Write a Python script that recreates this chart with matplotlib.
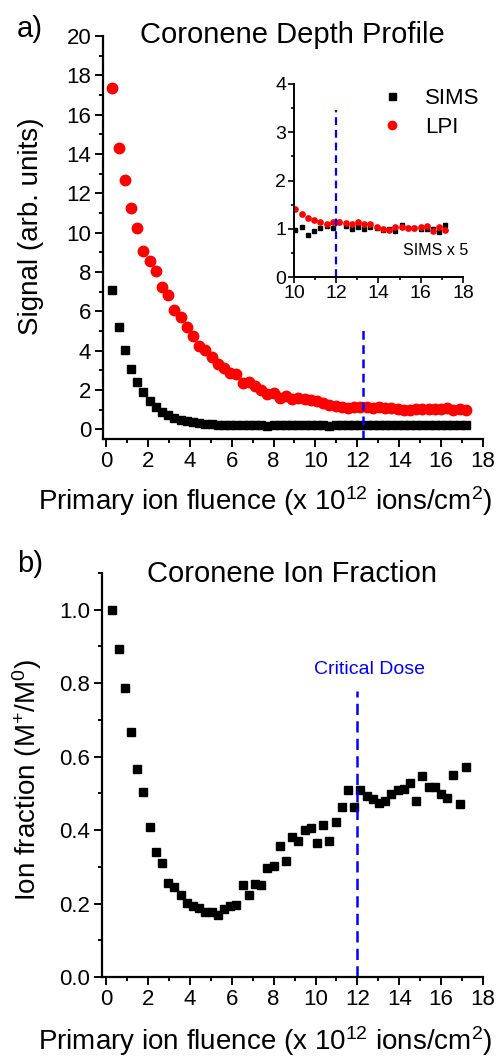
import matplotlib
matplotlib.use("Agg")
import matplotlib.pyplot as plt
from matplotlib.ticker import MultipleLocator, FormatStrFormatter
import numpy as np

plt.rcParams['font.family'] = ['Liberation Sans', 'DejaVu Sans']
plt.rcParams['mathtext.fontset'] = 'custom'
plt.rcParams['mathtext.rm'] = 'Liberation Sans'
plt.rcParams['mathtext.it'] = 'Liberation Sans'

# ---------------- data ----------------
fluence = [0.30, 0.60, 0.89, 1.19, 1.48, 1.78, 2.08, 2.37, 2.67, 2.96,
           3.26, 3.56, 3.85, 4.15, 4.44, 4.74, 5.04, 5.33, 5.63, 5.92,
           6.22, 6.52, 6.81, 7.11, 7.40, 7.70, 8.00, 8.29, 8.59, 8.88,
           9.18, 9.48, 9.77, 10.07, 10.36, 10.66, 10.96, 11.25, 11.55, 11.84,
           12.14, 12.44, 12.73, 13.03, 13.32, 13.62, 13.92, 14.21, 14.51, 14.80,
           15.10, 15.40, 15.69, 15.99, 16.28, 16.58, 16.88, 17.17]

lpi = [17.37, 14.28, 12.67, 11.26, 10.24, 9.07, 8.56, 8.06, 7.21, 6.82,
       6.04, 5.72, 5.21, 4.75, 4.22, 4.02, 3.68, 3.34, 3.09, 2.87,
       2.83, 2.36, 2.38, 2.19, 1.98, 1.77, 1.85, 1.59, 1.68, 1.56,
       1.60, 1.52, 1.47, 1.41, 1.31, 1.23, 1.18, 1.13, 1.09, 1.15,
       1.15, 1.11, 1.09, 1.15, 1.09, 1.09, 1.04, 0.99, 0.97, 1.04,
       1.03, 1.01, 1.01, 1.04, 1.06, 0.95, 1.04, 0.97]

sims = [7.07, 5.21, 4.05, 3.05, 2.38, 1.87, 1.44, 1.13, 0.88, 0.71,
        0.59, 0.49, 0.41, 0.34, 0.29, 0.26, 0.24, 0.22, 0.21, 0.20,
        0.20, 0.19, 0.19, 0.19, 0.19, 0.18, 0.19, 0.19, 0.19, 0.19,
        0.19, 0.20, 0.19, 0.194, 0.208, 0.174, 0.190, 0.204, 0.212, 0.204,
        0.226, 0.212, 0.198, 0.208, 0.198, 0.208, 0.204, 0.194, 0.198, 0.192,
        0.216, 0.202, 0.202, 0.198, 0.198, 0.198, 0.188, 0.216]

ion_fraction = [1.000, 0.893, 0.787, 0.666, 0.566, 0.505, 0.408, 0.340, 0.311, 0.257,
                0.244, 0.223, 0.201, 0.193, 0.189, 0.177, 0.177, 0.169, 0.184, 0.192,
                0.196, 0.251, 0.223, 0.253, 0.251, 0.296, 0.302, 0.357, 0.317, 0.380,
                0.369, 0.401, 0.405, 0.366, 0.414, 0.371, 0.421, 0.464, 0.508, 0.464,
                0.508, 0.493, 0.484, 0.473, 0.478, 0.498, 0.508, 0.511, 0.528, 0.480,
                0.546, 0.517, 0.517, 0.499, 0.487, 0.550, 0.471, 0.573]

inset_start = 10.0
sims_scale = 5
dose_a = 12.27          # dashed line position in panel a
dose_a_top = 5.1
dose_inset = 12.0
dose_inset_top = 3.46
dose_b = 12.0
dose_b_top = 0.78

RED = '#ff0000'
BLUE = '#0000ff'

# ---------------- figure ----------------
W, H = 502, 1061
fig = plt.figure(figsize=(W / 100, H / 100), dpi=100)


def fx(px):
    return px / W


def fy(py):
    return 1 - py / H


def style_axes(ax, lw=1.6, major=5.5, minor=3.0, size=16):
    for s in ['top', 'right']:
        ax.spines[s].set_visible(False)
    for s in ['left', 'bottom']:
        ax.spines[s].set_linewidth(lw)
    ax.tick_params(which='major', direction='out', length=major, width=lw * 0.85,
                   labelsize=size, pad=3)
    ax.tick_params(which='minor', direction='out', length=minor, width=lw * 0.85)


def place_labels(ax, left, right, top, bottom, xl_center, xl_y, yl_x, yl_y):
    w = right - left
    h = bottom - top
    ax.xaxis.label.set_va('center')
    ax.xaxis.set_label_coords((xl_center - left) / w, (bottom - xl_y) / h)
    ax.yaxis.label.set_va('center')
    ax.yaxis.set_label_coords((yl_x - left) / w, (bottom - yl_y) / h)


x_label = 'Primary ion fluence (x 10$^{12}$ ions/cm$^{2}$)'

# ---------------- panel a ----------------
A_L, A_R, A_T, A_B = 103, 483, 36, 439
axa = fig.add_axes([fx(A_L), fy(A_B), fx(A_R) - fx(A_L), fy(A_T) - fy(A_B)])
axa.plot(fluence, sims, 's', color='black', ms=6.3, mec='black', label='SIMS')
axa.plot(fluence, lpi, 'o', color=RED, ms=7.5, mec=RED, label='LPI')
axa.vlines(dose_a, -0.5, dose_a_top, colors=BLUE, linestyles=(0, (3.5, 2.2)), lw=1.8)
axa.set_xlim(-0.14, 18)
axa.set_ylim(-0.5, 20)
axa.xaxis.set_major_locator(MultipleLocator(2))
axa.xaxis.set_minor_locator(MultipleLocator(1))
axa.yaxis.set_major_locator(MultipleLocator(2))
axa.yaxis.set_minor_locator(MultipleLocator(1))
style_axes(axa)
axa.set_ylabel('Signal (arb. units)', fontsize=20)
axa.set_xlabel(x_label, fontsize=20)
place_labels(axa, A_L, A_R, A_T, A_B, 265, 501, 31, 226)

leg = axa.legend(loc='upper left', bbox_to_anchor=(fx(381), fy(88)),
                 bbox_transform=fig.transFigure, frameon=False, fontsize=16,
                 handlelength=1.0, handletextpad=1.0, labelspacing=0.35,
                 borderpad=0, borderaxespad=0, markerscale=0.8)

# ---------------- inset ----------------
fl = np.array(fluence)
m = fl >= inset_start
axi = fig.add_axes([fx(294), fy(277), fx(463) - fx(294), fy(84) - fy(277)])
axi.set_facecolor('none')
axi.plot(fl[m], np.array(sims)[m] * sims_scale, 's', color='black', ms=3.2, mec='black')
axi.plot(fl[m], np.array(lpi)[m], 'o', color=RED, ms=3.8, mec=RED)
axi.vlines(dose_inset, 0, dose_inset_top, colors=BLUE, linestyles=(0, (3.5, 2.2)), lw=1.6)
axi.set_xlim(10, 18)
axi.set_ylim(0, 4)
axi.xaxis.set_major_locator(MultipleLocator(2))
axi.xaxis.set_minor_locator(MultipleLocator(1))
axi.yaxis.set_major_locator(MultipleLocator(1))
axi.yaxis.set_minor_locator(MultipleLocator(0.5))
style_axes(axi, lw=1.4, major=4, minor=2.5, size=14)
axi.tick_params(which='major', pad=1.5)
axi.text(16.7, 0.54, 'SIMS x 5', fontsize=11.5, ha='center', va='center')

# ---------------- panel b ----------------
B_L, B_R, B_T, B_B = 102, 483, 573, 977
axb = fig.add_axes([fx(B_L), fy(B_B), fx(B_R) - fx(B_L), fy(B_T) - fy(B_B)])
axb.plot(fluence, ion_fraction, 's', color='black', ms=5.8, mec='black')
axb.vlines(dose_b, 0, dose_b_top, colors=BLUE, linestyles=(0, (4.5, 2.5)), lw=1.8)
axb.text(12.6, 0.837, 'Critical Dose', color=BLUE, fontsize=14, ha='center', va='center')
axb.set_xlim(-0.2, 18)
axb.set_ylim(0, 1.1)
axb.xaxis.set_major_locator(MultipleLocator(2))
axb.xaxis.set_minor_locator(MultipleLocator(1))
axb.yaxis.set_major_locator(MultipleLocator(0.2))
axb.yaxis.set_minor_locator(MultipleLocator(0.1))
axb.yaxis.set_major_formatter(FormatStrFormatter('%.1f'))
style_axes(axb)
axb.set_ylabel('Ion fraction (M$^{+}$/M$^{0}$)', fontsize=20)
axb.set_xlabel(x_label, fontsize=20)
place_labels(axb, B_L, B_R, B_T, B_B, 265, 1041, 27, 780)

# ---------------- titles & panel letters ----------------
fig.text(fx(292), fy(43), 'Coronene Depth Profile', fontsize=21, ha='center', va='baseline')
fig.text(fx(292), fy(582), 'Coronene Ion Fraction', fontsize=21, ha='center', va='baseline')
fig.text(fx(17), fy(37), 'a)', fontsize=21, ha='left', va='baseline')
fig.text(fx(17), fy(572), 'b)', fontsize=21, ha='left', va='baseline')

fig.savefig('out.png', dpi=100)
